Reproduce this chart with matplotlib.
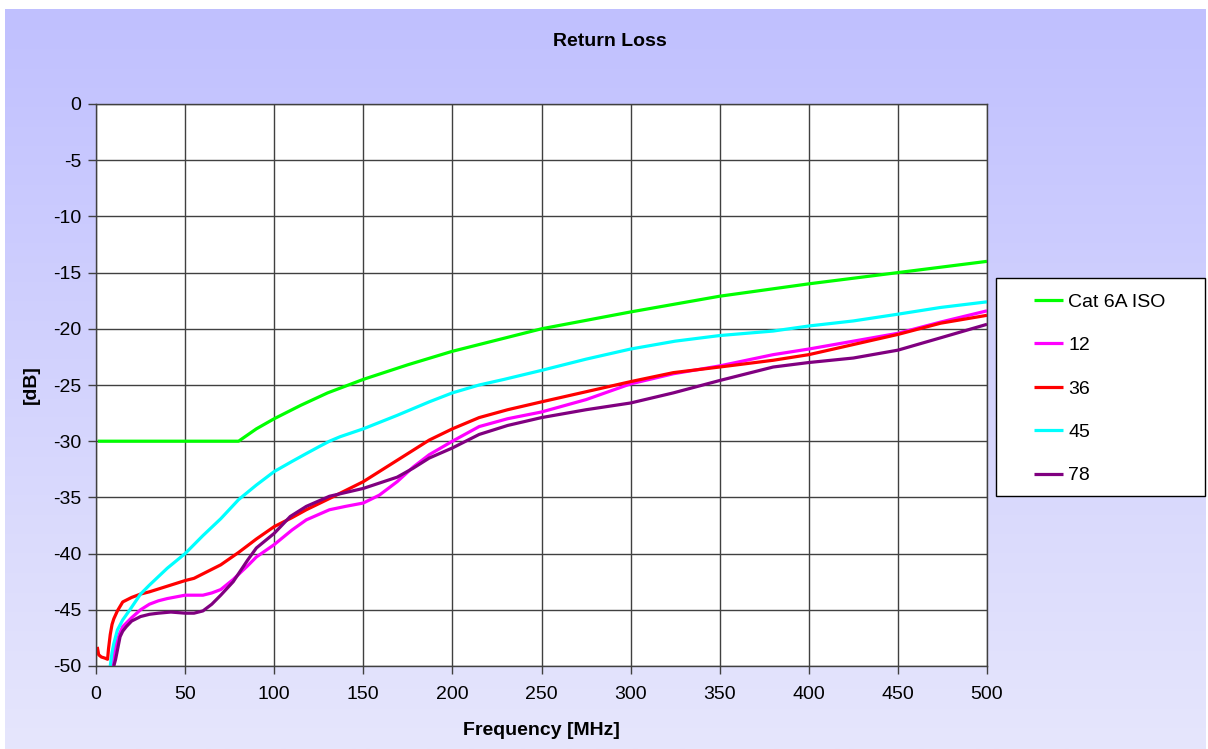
import numpy as np
import matplotlib
matplotlib.use("Agg")
import matplotlib.pyplot as plt
from matplotlib.patches import Rectangle

plt.rcParams['font.family'] = ['Liberation Sans', 'DejaVu Sans']
plt.rcParams['axes.unicode_minus'] = False

# Cat 6A ISO limit
f_iso = [1, 80, 90, 100, 115, 130, 150, 175, 200, 250, 300, 350, 400, 450, 500]
rl_iso = [-30, -30, -28.9, -28.0, -26.8, -25.7, -24.5, -23.2, -22.0, -20.0, -18.5, -17.1, -16.0, -15.0, -14.0]

# pair 12
f_12 = [9, 10, 11, 13, 15, 20, 25, 30, 35, 40, 50, 60, 65, 70, 77, 85, 90, 100, 110, 118, 131, 140, 150,
        159, 169, 178, 187, 200, 215, 231, 250, 275, 300, 324, 350, 380, 400, 425, 450, 474, 500]
rl_12 = [-50, -49.0, -48.2, -47.2, -46.5, -45.7, -45.0, -44.5, -44.2, -44.0, -43.7, -43.7, -43.5, -43.2, -42.3,
         -41.1, -40.3, -39.2, -37.9, -37.0, -36.1, -35.8, -35.5, -34.8, -33.6, -32.3, -31.2, -30.0, -28.7, -28.0,
         -27.4, -26.3, -24.9, -24.0, -23.3, -22.3, -21.8, -21.1, -20.4, -19.4, -18.4]

# pair 36
f_36 = [0.7, 1.5, 3, 5, 6.5, 7, 8, 9, 10, 12, 15, 20, 25, 30, 40, 50, 55, 60, 70, 80, 90, 100, 110, 118,
        131, 150, 169, 187, 200, 215, 231, 250, 275, 300, 324, 350, 380, 400, 425, 450, 474, 500]
rl_36 = [-48.3, -49.0, -49.2, -49.3, -49.4, -48.5, -47.2, -46.3, -45.8, -45.1, -44.3, -43.9, -43.6, -43.4,
         -42.9, -42.4, -42.2, -41.8, -41.0, -39.9, -38.7, -37.6, -36.8, -36.1, -35.1, -33.6, -31.7, -29.9,
         -28.9, -27.9, -27.2, -26.5, -25.6, -24.7, -23.9, -23.4, -22.8, -22.3, -21.4, -20.5, -19.5, -18.8]

# pair 45
f_45 = [8, 9, 10, 12, 15, 19, 25, 30, 40, 50, 60, 70, 80, 90, 100, 110, 118, 125, 131, 137, 150, 169, 187,
        200, 215, 229, 250, 275, 300, 325, 350, 380, 400, 425, 450, 474, 500]
rl_45 = [-50, -48.8, -48.0, -46.8, -45.9, -45.0, -43.6, -42.8, -41.3, -40.0, -38.4, -36.9, -35.2, -33.9,
         -32.7, -31.8, -31.1, -30.5, -30.0, -29.6, -28.9, -27.7, -26.5, -25.7, -25.0, -24.5, -23.7, -22.7,
         -21.8, -21.1, -20.6, -20.2, -19.75, -19.3, -18.7, -18.1, -17.6]

# pair 78
f_78 = [10, 11, 12.5, 13.5, 15, 17, 20, 25, 30, 35, 42, 50, 55, 60, 65, 70, 77, 85, 90, 100, 109, 118, 131,
        150, 169, 178, 187, 200, 215, 231, 250, 275, 300, 316, 324, 350, 380, 400, 425, 450, 474, 500]
rl_78 = [-50, -49.4, -48.2, -47.4, -46.9, -46.5, -46.0, -45.6, -45.4, -45.3, -45.2, -45.3, -45.3, -45.1,
         -44.5, -43.7, -42.5, -40.6, -39.5, -38.2, -36.7, -35.8, -34.9, -34.2, -33.2, -32.4, -31.5, -30.6,
         -29.4, -28.6, -27.9, -27.2, -26.6, -26.0, -25.7, -24.6, -23.4, -23.0, -22.6, -21.9, -20.8, -19.6]

series = [("Cat 6A ISO", f_iso, rl_iso, "#00ff00"),
          ("12", f_12, rl_12, "#ff00ff"),
          ("36", f_36, rl_36, "#ff0000"),
          ("45", f_45, rl_45, "#00ffff"),
          ("78", f_78, rl_78, "#800080")]

W, H = 1208, 749
fig = plt.figure(figsize=(W / 100, H / 100), dpi=100)
fig.patch.set_facecolor("white")

# gradient background of the chart area
bg = fig.add_axes([5 / W, 0, (1206 - 5) / W, (H - 9) / H], zorder=-10)
top = np.array([192, 192, 255]) / 255
bot = np.array([230, 230, 252]) / 255
t = np.linspace(0, 1, 256)[:, None]
grad = top[None, :] * (1 - t) + bot[None, :] * t
bg.imshow(grad[:, None, :], aspect="auto", extent=[0, 1, 0, 1])
bg.set_axis_off()

ax = fig.add_axes([96 / W, 1 - 666 / H, (987 - 96) / W, (666 - 104) / H])
ax.set_facecolor("white")

lines = []
for name, f, rl, c in series:
    ln, = ax.plot(f, rl, color=c, lw=2.3, label=name, solid_capstyle="butt", solid_joinstyle="round")
    lines.append(ln)

ax.set_xlim(0, 500)
ax.set_ylim(-50, 0)
ax.set_xticks(np.arange(0, 501, 50))
ax.set_yticks(np.arange(-50, 1, 5))
gc = "#404040"
ax.grid(True, color=gc, lw=1.0)
ax.set_axisbelow(True)
for s in ax.spines.values():
    s.set_color(gc)
    s.set_linewidth(1.0)
ax.tick_params(axis="both", labelsize=14, color=gc, length=5.5, width=1.0, direction="out")
ax.tick_params(axis="x", pad=9)
ax.tick_params(axis="y", pad=5)

ax.set_xlabel("Frequency [MHz]", fontsize=14, fontweight="bold")
ax.xaxis.set_label_coords(0.5, -0.099)
ax.set_ylabel("[dB]", fontsize=14, fontweight="bold")
ax.yaxis.set_label_coords(-0.063, 0.5)

fig.text(610 / W, 1 - 42 / H, "Return Loss", fontsize=14, fontweight="bold", ha="center", va="center")

# legend box
fig.patches.append(Rectangle((996 / W, 1 - 496 / H), 209 / W, 218 / H, transform=fig.transFigure,
                             facecolor="white", edgecolor="black", lw=1.0, zorder=5))
leg = fig.legend(handles=lines, loc="upper left", bbox_to_anchor=(1034 / W, 1 - 293 / H),
                 frameon=False, fontsize=14, borderpad=0, handlelength=1.5, handletextpad=0.26,
                 labelspacing=1.33, borderaxespad=0)
leg.set_zorder(6)

fig.savefig("out.png", dpi=100)
